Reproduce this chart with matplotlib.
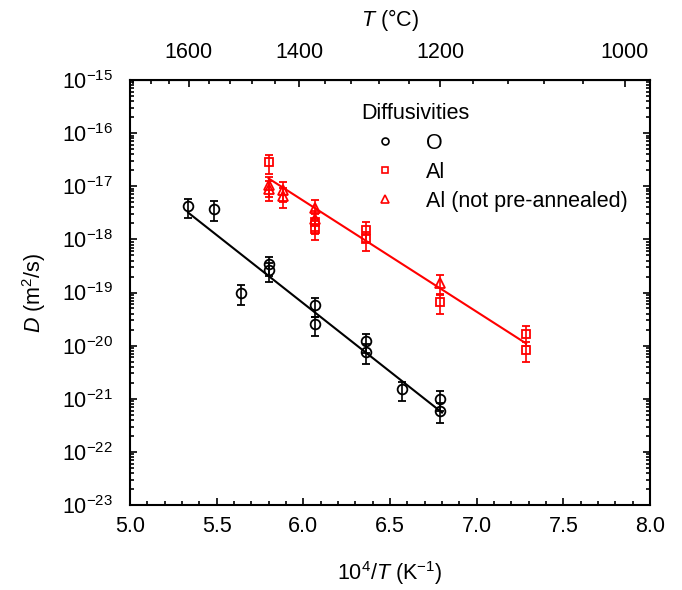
import matplotlib; matplotlib.use("Agg")
import matplotlib.pyplot as plt
from matplotlib.lines import Line2D
from matplotlib.ticker import LogLocator, MultipleLocator, NullFormatter
import numpy as np

plt.rcParams["font.family"] = ["Liberation Sans", "DejaVu Sans"]
plt.rcParams["mathtext.fontset"] = "custom"
plt.rcParams["mathtext.rm"] = "Liberation Sans"
plt.rcParams["mathtext.it"] = "Liberation Sans:italic"

# --- Daten ---
o_x = [5.335, 5.485, 5.64, 5.80, 5.80, 6.07, 6.07, 6.36, 6.36, 6.57, 6.79, 6.79]
o_D = [4.2e-18, 3.7e-18, 9.8e-20, 3.4e-19, 2.6e-19, 5.7e-20, 2.5e-20, 1.2e-20, 7.6e-21, 1.5e-21, 1.0e-21, 5.9e-22]

al_x = [5.80, 6.07, 6.07, 6.36, 6.36, 6.79, 7.285, 7.285]
al_D = [2.8e-17, 2.1e-18, 1.6e-18, 1.5e-18, 1.0e-18, 6.6e-20, 1.65e-20, 8.3e-21]

aln_x = [5.80, 5.80, 5.88, 5.88, 6.07, 6.07, 6.79]
aln_D = [1.05e-17, 8.9e-18, 8.5e-18, 6.6e-18, 3.9e-18, 2.4e-18, 1.5e-19]

err_frac = 0.4  # relative Fehler (linear symmetrisch)

fit_o_x = [5.335, 6.80]
fit_o_D = [3.2e-18, 5.5e-22]
fit_al_x = [5.80, 7.285]
fit_al_D = [1.4e-17, 1.1e-20]

T_major = [1000, 1200, 1400, 1600]
T_minor = [1040, 1080, 1120, 1160, 1240, 1280, 1320, 1360,
           1440, 1480, 1520, 1560, 1640, 1680, 1720]

RED = "#ff0000"
FS = 15.5

fig = plt.figure(figsize=(6.82, 5.90), dpi=100)
ax = fig.add_axes([130 / 682, 85 / 590, 520 / 682, 425 / 590])

ax.plot(fit_o_x, fit_o_D, color="black", lw=1.5, zorder=2)
ax.plot(fit_al_x, fit_al_D, color=RED, lw=1.5, zorder=2)

kw = dict(ls="none", capsize=3, elinewidth=1.2, capthick=1.2, mew=1.3, fillstyle="none", zorder=3)
o_D = np.array(o_D); al_D = np.array(al_D); aln_D = np.array(aln_D)
ax.errorbar(o_x, o_D, yerr=err_frac * o_D, fmt="o", color="black", ms=7, **kw)
ax.errorbar(al_x, al_D, yerr=err_frac * al_D, fmt="s", color=RED, ms=6, **kw)
ax.errorbar(aln_x, aln_D, yerr=err_frac * aln_D, fmt="^", color=RED, ms=7, **kw)

ax.set_yscale("log")
ax.set_xlim(5.0, 8.0)
ax.set_ylim(1e-23, 1e-15)
ax.xaxis.set_major_locator(MultipleLocator(0.5))
ax.xaxis.set_minor_locator(MultipleLocator(0.1))
ax.xaxis.set_major_formatter(plt.FormatStrFormatter("%.1f"))
ax.yaxis.set_major_locator(LogLocator(base=10, numticks=20))
ax.yaxis.set_minor_locator(LogLocator(base=10, subs=np.arange(2, 10), numticks=20))
ax.yaxis.set_minor_formatter(NullFormatter())
ax.tick_params(which="both", direction="in", top=False, right=True, width=1.2, labelsize=FS)
ax.tick_params(which="major", length=5)
ax.tick_params(which="minor", length=3)
ax.tick_params(axis="y", which="major", pad=12)
ax.tick_params(axis="x", which="major", pad=8)
for s in ax.spines.values():
    s.set_linewidth(1.5)

ax.set_xlabel("10$^{4}$/$T$ (K$^{-1}$)", fontsize=FS, labelpad=16)
ax.set_ylabel("$D$ (m$^{2}$/s)", fontsize=FS, labelpad=10)

sec = ax.secondary_xaxis("top", functions=(lambda x: 1e4 / x - 273.15,
                                            lambda t: 1e4 / (t + 273.15)))
sec.set_xticks(T_major)
sec.set_xticks(T_minor, minor=True)
sec.tick_params(which="both", direction="in", width=1.2, labelsize=FS)
sec.tick_params(which="major", length=5, pad=12)
sec.tick_params(which="minor", length=3)
sec.set_xlabel("$T$ (°C)", fontsize=FS, labelpad=12)

handles = [Line2D([], [], ls="none", marker="o", color="black", fillstyle="none", ms=5, mew=1.2),
           Line2D([], [], ls="none", marker="s", color=RED, fillstyle="none", ms=5, mew=1.2),
           Line2D([], [], ls="none", marker="^", color=RED, fillstyle="none", ms=5.5, mew=1.2)]
leg = ax.legend(handles, ["O", "Al", "Al (not pre-annealed)"], title="Diffusivities",
                loc="upper left", bbox_to_anchor=(0.445, 0.945), frameon=False,
                fontsize=FS, title_fontsize=FS, borderpad=0, borderaxespad=0,
                handlelength=2.2, handletextpad=0.8, labelspacing=0.38)
leg._legend_box.align = "left"

fig.savefig("out.png", dpi=100)
